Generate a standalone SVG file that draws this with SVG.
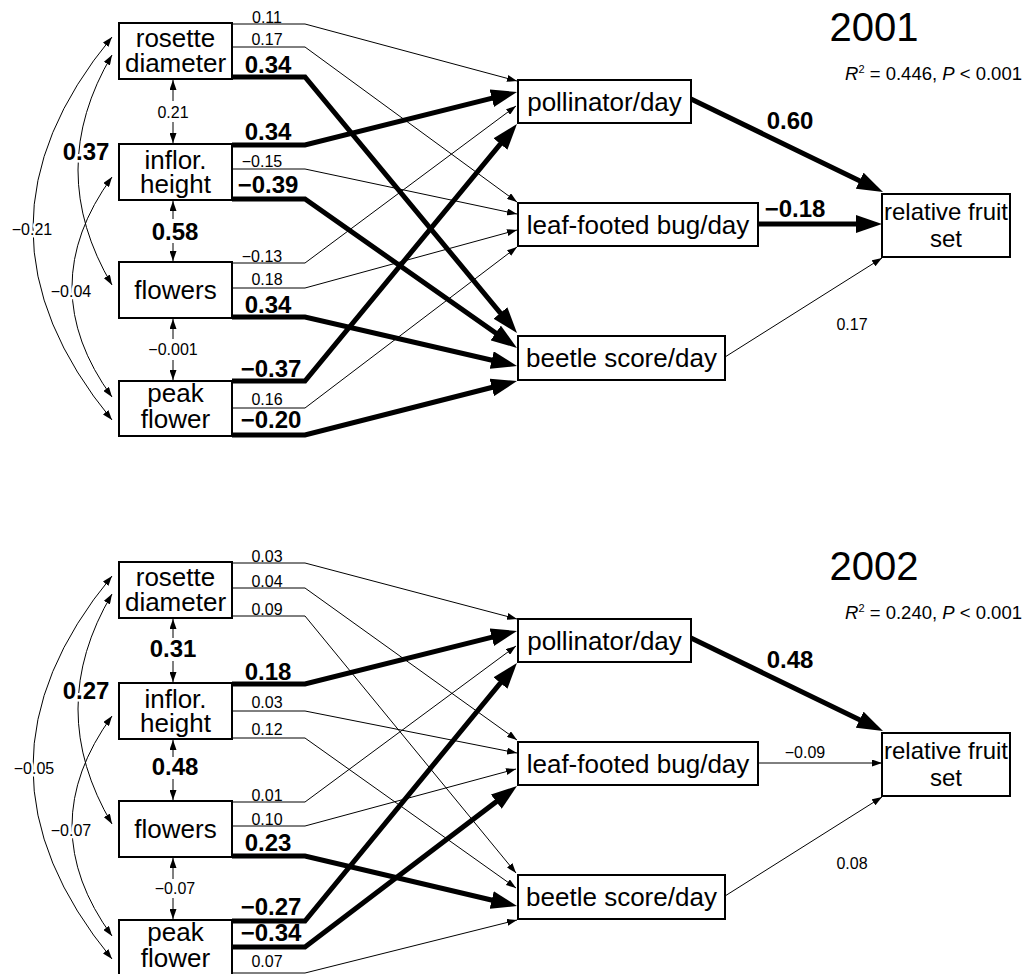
<svg xmlns="http://www.w3.org/2000/svg" width="1031" height="974" viewBox="0 0 1031 974">
<style>
text{font-family:"Liberation Sans",Arial,Helvetica,sans-serif;fill:#000}
.box{fill:#fff;stroke:#000;stroke-width:2}
.nt{font-size:26px;text-anchor:middle}
.rf{font-size:24px;text-anchor:middle}
.lt{font-size:16px;text-anchor:middle}
.lb{font-size:24px;font-weight:bold;text-anchor:middle}
.halo{stroke:#fff;stroke-width:5px;paint-order:stroke;stroke-linejoin:round}
.thin{fill:none;stroke:#000;stroke-width:1;marker-end:url(#ah)}
.dbl{fill:none;stroke:#000;stroke-width:1;marker-start:url(#ah);marker-end:url(#ah)}
.bold{fill:none;stroke:#000;stroke-width:5;marker-end:url(#ab)}
.title{font-size:40px;text-anchor:middle}
.stat{font-size:18.5px;text-anchor:end}
</style>
<defs>
<marker id="ah" markerUnits="userSpaceOnUse" viewBox="0 0 10 7" refX="10" refY="3.5" markerWidth="10" markerHeight="7" orient="auto-start-reverse"><path d="M0,0 L10,3.5 L0,7 z"/></marker>
<marker id="ab" markerUnits="userSpaceOnUse" viewBox="0 0 26 18" refX="16" refY="9" markerWidth="26" markerHeight="18" orient="auto"><path d="M0,0 L26,9 L0,18 z"/></marker>
</defs>

<g id="connectors">
<path class="thin" d="M232,24 H305 L517,81"/>
<path class="thin" d="M232,47 H305 L517,202"/>
<path class="thin" d="M232,169 H305 L517,214"/>
<path class="thin" d="M232,263 H305 L516,106"/>
<path class="thin" d="M232,288 H305 L517,230"/>
<path class="thin" d="M232,408 H305 L517,247"/>
<path class="thin" d="M725,357 L882,258"/>
<path class="bold" d="M232,77 H305 L510.6,325.3"/>
<path class="bold" d="M232,145 H305 L507.3,94.4"/>
<path class="bold" d="M232,199 H305 L508.8,342.2"/>
<path class="bold" d="M232,317 H305 L507.3,363.7"/>
<path class="bold" d="M232,381 H305 L510.6,131.7"/>
<path class="bold" d="M232,435 H305 L507.3,383.5"/>
<path class="bold" d="M691,99 L874,187.7"/>
<path class="bold" d="M758,224 L872,224"/>
<path class="dbl" d="M112,55 Q44,170 112,285"/>
<path class="dbl" d="M112,177 Q32,287 112,397"/>
<path class="dbl" d="M112,37 Q-46,228 112,420"/>
<path class="thin" d="M173,101 V80"/>
<path class="thin" d="M173,122 V143"/>
<path class="thin" d="M173,219 V201"/>
<path class="thin" d="M173,243 V261"/>
<path class="thin" d="M173,339 V319"/>
<path class="thin" d="M173,360 V380"/>
<path class="thin" d="M232,563 H305 L517,619"/>
<path class="thin" d="M232,588 H305 L517,740"/>
<path class="thin" d="M232,616 H305 L516,873"/>
<path class="thin" d="M232,711 H305 L517,753"/>
<path class="thin" d="M232,738 H305 L516,888"/>
<path class="thin" d="M232,802 H305 L516,646"/>
<path class="thin" d="M232,826 H305 L516,769"/>
<path class="thin" d="M232,973 H305 L517,920"/>
<path class="thin" d="M758,763 L882,763"/>
<path class="thin" d="M725,896 L882,797"/>
<path class="bold" d="M232,684 H305 L507.3,633.4"/>
<path class="bold" d="M232,856 H305 L507.3,903.7"/>
<path class="bold" d="M232,921 H305 L510.6,670.7"/>
<path class="bold" d="M232,947 H305 L509,792"/>
<path class="bold" d="M691,638 L874,726.7"/>
<path class="dbl" d="M112,594 Q44,709 112,824"/>
<path class="dbl" d="M112,716 Q32,826 112,936"/>
<path class="dbl" d="M112,576 Q-46,767 112,959"/>
<path class="thin" d="M173,638 V619"/>
<path class="thin" d="M173,661 V682"/>
<path class="thin" d="M173,757 V740"/>
<path class="thin" d="M173,779 V800"/>
<path class="thin" d="M173,879 V858"/>
<path class="thin" d="M173,898 V919"/>
</g>

<g id="labels">
<text class="lt" x="267" y="23">0.11</text>
<text class="lt" x="267" y="45">0.17</text>
<text class="lb" x="268" y="73">0.34</text>
<text class="lb" x="268" y="140">0.34</text>
<text class="lt" x="262" y="167">−0.15</text>
<text class="lb" x="268" y="193">−0.39</text>
<text class="lt" x="262" y="262">−0.13</text>
<text class="lt" x="267" y="285">0.18</text>
<text class="lb" x="268" y="313">0.34</text>
<text class="lb" x="271" y="377">−0.37</text>
<text class="lt" x="267" y="405">0.16</text>
<text class="lb" x="271" y="428">−0.20</text>
<text class="lb halo" x="86" y="160">0.37</text>
<text class="lt halo" x="32" y="235">−0.21</text>
<text class="lt halo" x="71" y="297">−0.04</text>
<text class="lt" x="173" y="118">0.21</text>
<text class="lb" x="175" y="240">0.58</text>
<text class="lt" x="173" y="355">−0.001</text>
<text class="lb" x="790" y="129">0.60</text>
<text class="lb" x="795" y="217">−0.18</text>
<text class="lt" x="852" y="330">0.17</text>

<text class="lt" x="267" y="562">0.03</text>
<text class="lt" x="267" y="587">0.04</text>
<text class="lt" x="267" y="615">0.09</text>
<text class="lb" x="268" y="680">0.18</text>
<text class="lt" x="267" y="708">0.03</text>
<text class="lt" x="267" y="735">0.12</text>
<text class="lt" x="267" y="801">0.01</text>
<text class="lt" x="267" y="825">0.10</text>
<text class="lb" x="268" y="851">0.23</text>
<text class="lb" x="271" y="915">−0.27</text>
<text class="lb" x="271" y="941">−0.34</text>
<text class="lt" x="267" y="967">0.07</text>
<text class="lb halo" x="86" y="699">0.27</text>
<text class="lt halo" x="34" y="774">−0.05</text>
<text class="lt halo" x="71" y="836">−0.07</text>
<text class="lb" x="173" y="657">0.31</text>
<text class="lb" x="175" y="775">0.48</text>
<text class="lt" x="175" y="894">−0.07</text>
<text class="lb" x="790" y="668">0.48</text>
<text class="lt" x="805" y="758">−0.09</text>
<text class="lt" x="852" y="869">0.08</text>

<text class="title" x="874" y="41">2001</text>
<text class="stat" x="1022" y="80"><tspan font-style="italic">R</tspan><tspan font-size="11" dy="-7">2</tspan><tspan dy="7"> = 0.446, </tspan><tspan font-style="italic">P</tspan> &lt; 0.001</text>
<text class="title" x="874" y="580">2002</text>
<text class="stat" x="1022" y="619"><tspan font-style="italic">R</tspan><tspan font-size="11" dy="-7">2</tspan><tspan dy="7"> = 0.240, </tspan><tspan font-style="italic">P</tspan> &lt; 0.001</text>
</g>

<g id="n2001-rosette"><rect class="box" x="119" y="23" width="113" height="56"/><text class="nt" x="175.5" y="47">rosette</text><text class="nt" x="175.5" y="72">diameter</text></g>
<g id="n2001-inflor"><rect class="box" x="119" y="144" width="113" height="56"/><text class="nt" x="175.5" y="169">inflor.</text><text class="nt" x="175.5" y="193">height</text></g>
<g id="n2001-flowers"><rect class="box" x="119" y="262" width="113" height="56"/><text class="nt" x="175.5" y="299">flowers</text></g>
<g id="n2001-peak"><rect class="box" x="119" y="381" width="113" height="55"/><text class="nt" x="175.5" y="402">peak</text><text class="nt" x="175.5" y="428">flower</text></g>
<g id="n2001-pollinator"><rect class="box" x="518" y="80" width="173" height="43"/><text class="nt" x="604.5" y="111">pollinator/day</text></g>
<g id="n2001-leaf"><rect class="box" x="518" y="203" width="240" height="43"/><text class="nt" x="638" y="234">leaf-footed bug/day</text></g>
<g id="n2001-beetle"><rect class="box" x="518" y="336" width="207" height="44"/><text class="nt" x="621.5" y="367">beetle score/day</text></g>
<g id="n2001-fruit"><rect class="box" x="882" y="194" width="128" height="63"/><text class="rf" x="946" y="220">relative fruit</text><text class="rf" x="946" y="247">set</text></g>

<g id="n2002-rosette"><rect class="box" x="119" y="562" width="113" height="56"/><text class="nt" x="175.5" y="586">rosette</text><text class="nt" x="175.5" y="611">diameter</text></g>
<g id="n2002-inflor"><rect class="box" x="119" y="683" width="113" height="56"/><text class="nt" x="175.5" y="708">inflor.</text><text class="nt" x="175.5" y="732">height</text></g>
<g id="n2002-flowers"><rect class="box" x="119" y="801" width="113" height="56"/><text class="nt" x="175.5" y="838">flowers</text></g>
<g id="n2002-peak"><rect class="box" x="119" y="920" width="113" height="55"/><text class="nt" x="175.5" y="941">peak</text><text class="nt" x="175.5" y="967">flower</text></g>
<g id="n2002-pollinator"><rect class="box" x="518" y="619" width="173" height="43"/><text class="nt" x="604.5" y="650">pollinator/day</text></g>
<g id="n2002-leaf"><rect class="box" x="518" y="742" width="240" height="43"/><text class="nt" x="638" y="773">leaf-footed bug/day</text></g>
<g id="n2002-beetle"><rect class="box" x="518" y="875" width="207" height="44"/><text class="nt" x="621.5" y="906">beetle score/day</text></g>
<g id="n2002-fruit"><rect class="box" x="882" y="733" width="128" height="63"/><text class="rf" x="946" y="759">relative fruit</text><text class="rf" x="946" y="786">set</text></g>
</svg>
